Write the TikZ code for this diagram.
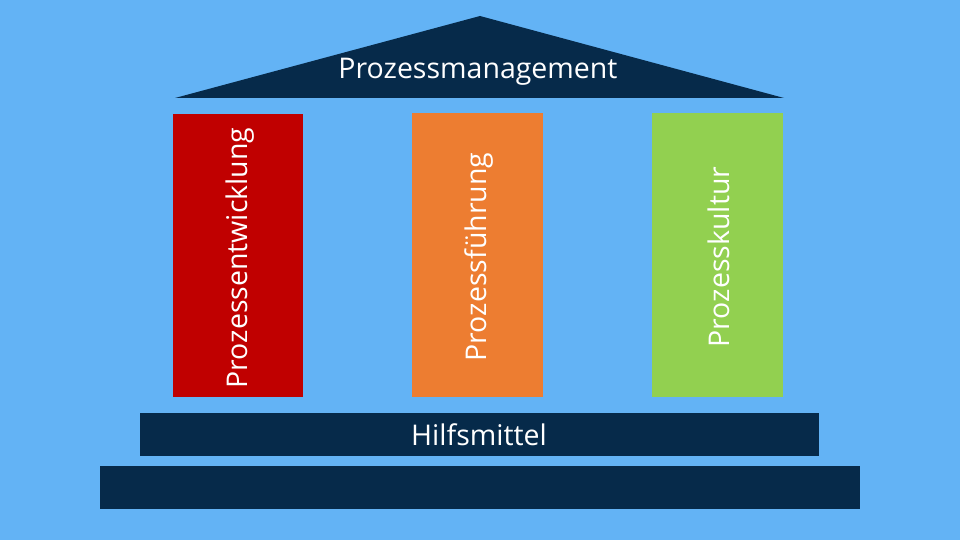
\documentclass[tikz,border=0pt]{standalone}
\usepackage{fontspec}
\setmainfont{Open Sans}
\definecolor{bgblue}{HTML}{63B3F5}
\definecolor{navy}{HTML}{062A4A}
\definecolor{pred}{HTML}{C00000}
\definecolor{porange}{HTML}{ED7D31}
\definecolor{pgreen}{HTML}{92D050}
\tikzset{
  lbl/.style={text=white, font=\fontsize{28.5}{32}\selectfont, inner sep=0pt},
  vlbl/.style={lbl, rotate=90}
}
\begin{document}
\begin{tikzpicture}[x=1pt,y=-1pt]
\fill[bgblue] (0,0) rectangle (960,540);
\useasboundingbox (0,0) rectangle (960,540);
% roof
\fill[navy] (480,16) -- (784,98) -- (175,98) -- cycle;
\node[lbl] (roof) at (478,72) {Prozessmanagement};
% pillars
\fill[pred] (173,114) rectangle (303,397);
\fill[porange] (412,113) rectangle (543,397);
\fill[pgreen] (652,113) rectangle (783,397);
\node[vlbl] (p1) at (240,258) {Prozessentwicklung};
\node[vlbl] (p2) at (479,257) {Prozessführung};
\node[vlbl] (p3) at (719,257) {Prozesskultur};
% bars
\fill[navy] (140,413) rectangle (819,456);
\node[lbl] (hm) at (479,435) {Hilfsmittel};
\fill[navy] (100,466) rectangle (860,509);
\end{tikzpicture}
\end{document}
